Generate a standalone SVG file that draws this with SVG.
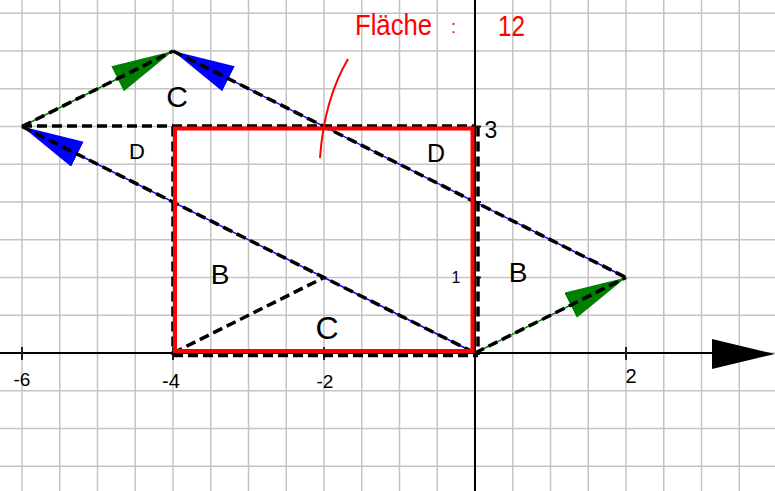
<svg xmlns="http://www.w3.org/2000/svg" width="775" height="491" viewBox="0 0 775 491">
<defs>
<style>
.grid{stroke:#c4c4c4;stroke-width:1.5;fill:none}
.axis{stroke:#000;stroke-width:2;fill:none}
.tick{stroke:#222;stroke-width:2;fill:none}
.dash{stroke:#000;stroke-width:3.5;stroke-dasharray:10 5;fill:none}
.blue{stroke:#0000ff;stroke-width:1.5;fill:none;marker-end:url(#hb)}
.green{stroke:#008000;stroke-width:1.5;fill:none;marker-end:url(#hg)}
.red{stroke:#ff0000;stroke-width:4;fill:none}
.lbl{font-family:"Liberation Sans","DejaVu Sans",sans-serif;fill:#000;text-anchor:middle}
.num{font-family:"Liberation Sans","DejaVu Sans",sans-serif;fill:#000;text-anchor:middle}
.rtxt{font-family:"Liberation Sans","DejaVu Sans",sans-serif;fill:#ff0000}
</style>
<marker id="hb" markerUnits="userSpaceOnUse" markerWidth="64" markerHeight="30" refX="62" refY="14" orient="auto"><path d="M0,0 L62,14 L0,28 z" fill="#0000ff"/></marker>
<marker id="hg" markerUnits="userSpaceOnUse" markerWidth="64" markerHeight="30" refX="62" refY="14" orient="auto"><path d="M0,0 L62,14 L0,28 z" fill="#008000"/></marker>
</defs>
<rect x="0" y="0" width="775" height="491" fill="#fff"/>
<g id="grid" class="grid">
<path d="M22,0V491M59.75,0V491M97.5,0V491M135.25,0V491M173,0V491M210.75,0V491M248.5,0V491M286.25,0V491M324,0V491M361.75,0V491M399.5,0V491M437.25,0V491M475,0V491M512.75,0V491M550.5,0V491M588.25,0V491M626,0V491M663.75,0V491M701.5,0V491M739.25,0V491"/>
<path d="M0,13.25H775M0,51H775M0,88.75H775M0,126.5H775M0,164.25H775M0,202H775M0,239.75H775M0,277.5H775M0,315.25H775M0,353H775M0,390.75H775M0,428.5H775M0,466.25H775"/>
</g>
<g id="axes">
<line class="axis" x1="0" y1="353" x2="714" y2="353"/>
<polygon points="712,339 712,369 775,354" fill="#000"/>
<line class="axis" x1="475" y1="0" x2="475" y2="491"/>
<path class="tick" d="M22,347V360M173,347V360M324,347V360M626,347V360M471,126.5H481M471,202H481M471,277.5H481"/>
</g>
<g id="connectors">
<line class="green" x1="475" y1="353" x2="626" y2="277.5"/>
<line class="green" x1="22" y1="126.5" x2="173" y2="51"/>
<line class="blue" x1="626" y1="277.5" x2="173" y2="51"/>
<line class="blue" x1="475" y1="353" x2="22" y2="126.5"/>
<line class="dash" x1="22" y1="126" x2="475" y2="126"/>
<line class="dash" x1="173" y1="126.5" x2="173" y2="355"/>
<line class="dash" x1="478" y1="126.5" x2="478" y2="355"/>
<line class="dash" x1="173" y1="355.5" x2="478" y2="355.5"/>
<line class="dash" x1="173" y1="353" x2="324" y2="277.5"/>
<line class="dash" x1="22" y1="126.5" x2="475" y2="353"/>
<line class="dash" x1="173" y1="51" x2="626" y2="277.5"/>
<line class="dash" x1="22" y1="126.5" x2="173" y2="51"/>
<line class="dash" x1="475" y1="353" x2="626" y2="277.5"/>
</g>
<g id="rectangle">
<rect class="red" x="175" y="128.5" width="297.5" height="222.5"/>
</g>
<g id="annotation">
<path d="M348,59 Q324,100 320,158" stroke="#ff0000" stroke-width="2" fill="none"/>
<text class="rtxt" x="355" y="35" style="font-size:30px" textLength="77" lengthAdjust="spacingAndGlyphs">Fläche</text>
<text class="rtxt" x="451" y="33" style="font-size:18px">:</text>
<text class="rtxt" x="498" y="36" style="font-size:30px" textLength="27" lengthAdjust="spacingAndGlyphs">12</text>
</g>
<g id="region-C-top"><text class="lbl" x="177" y="107" style="font-size:30px">C</text></g>
<g id="region-D-left"><text class="lbl" x="137" y="159" style="font-size:22px">D</text></g>
<g id="region-D-right"><text class="lbl" x="436" y="162" style="font-size:25px">D</text></g>
<g id="region-B-left"><text class="lbl" x="220" y="284" style="font-size:28px">B</text></g>
<g id="region-C-bottom"><text class="lbl" x="327" y="339" style="font-size:32px">C</text></g>
<g id="region-B-right"><text class="lbl" x="518" y="282" style="font-size:28px">B</text></g>
<g id="axis-labels">
<text class="num" x="22" y="386" style="font-size:19px">-6</text>
<text class="num" x="171" y="388" style="font-size:20px">-4</text>
<text class="num" x="325" y="388" style="font-size:19px">-2</text>
<text class="num" x="631" y="383" style="font-size:20px">2</text>
<text class="num" x="491" y="138" style="font-size:23px">3</text>
<text class="num" x="456" y="283" style="font-size:16px">1</text>
</g>
</svg>
